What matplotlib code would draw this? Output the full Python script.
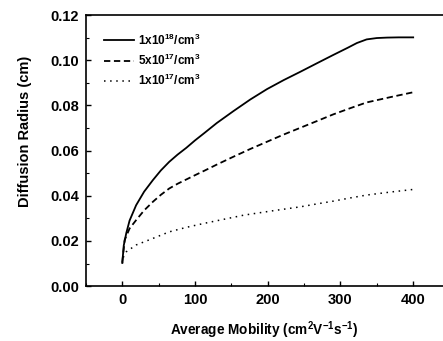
import matplotlib

matplotlib.use("Agg")
import matplotlib.pyplot as plt
from matplotlib.ticker import MultipleLocator

# values
mob_1e18 = [0, 2, 5.5, 10, 19, 30, 42, 53, 64.5, 76, 88, 100, 113, 130, 153, 176, 199, 222, 245, 268, 290, 310, 322.6, 336, 350, 364, 380, 400]
rad_1e18 = [0.0103, 0.018, 0.0235, 0.0290, 0.0358, 0.0418, 0.0469, 0.0512, 0.0550, 0.0582, 0.0612, 0.0645, 0.0678, 0.0722, 0.0775, 0.0826, 0.0872, 0.0912, 0.0949, 0.0987, 0.1023, 0.1055, 0.1076, 0.1092, 0.1098, 0.1100, 0.1101, 0.1101]
mob_5e17 = [0, 3.2, 10, 19, 30, 42, 53, 64.5, 76, 88, 100, 113, 130, 153, 176, 199, 222, 245, 268, 290, 313, 336, 368, 400]
rad_5e17 = [0.0105, 0.0204, 0.0255, 0.0292, 0.0335, 0.0373, 0.0404, 0.0432, 0.0453, 0.0472, 0.0491, 0.0511, 0.0538, 0.0573, 0.0607, 0.0639, 0.0671, 0.0701, 0.0731, 0.0760, 0.0787, 0.0813, 0.0836, 0.0858]
mob_1e17 = [0, 2, 5.5, 19, 42, 64.5, 88, 113, 140, 167, 206, 245, 268, 290, 313, 336, 368, 400.5]
rad_1e17 = [0.0100, 0.0135, 0.0152, 0.0182, 0.0211, 0.0240, 0.0260, 0.0278, 0.0296, 0.0314, 0.0333, 0.0351, 0.0364, 0.0376, 0.0390, 0.0403, 0.0416, 0.0428]
labels = [r"1x10$^{18}$/cm$^{3}$", r"5x10$^{17}$/cm$^{3}$", r"1x10$^{17}$/cm$^{3}$"]

plt.rcParams["font.family"] = ["Liberation Sans", "DejaVu Sans"]
plt.rcParams["font.weight"] = "bold"
plt.rcParams["mathtext.default"] = "regular"

fig = plt.figure(figsize=(4.43, 3.41), dpi=100)
ax = fig.add_axes([0.194, 0.161, 0.806, 0.795])

ax.plot(mob_1e18, rad_1e18, color="black", linewidth=1.3, linestyle="-", label=labels[0])
ax.plot(mob_5e17, rad_5e17, color="black", linewidth=1.3, linestyle=(0, (3.5, 2)), label=labels[1])
ax.plot(mob_1e17, rad_1e17, color="black", linewidth=1.1, linestyle=(0, (1, 3)), label=labels[2])

ax.set_xlim(-50, 441)
ax.set_ylim(0.0, 0.12)
ax.xaxis.set_major_locator(MultipleLocator(100))
ax.xaxis.set_minor_locator(MultipleLocator(50))
ax.yaxis.set_major_locator(MultipleLocator(0.02))
ax.yaxis.set_minor_locator(MultipleLocator(0.01))
ax.yaxis.set_major_formatter(plt.FuncFormatter(lambda v, _: f"{v:.2f}"))
ax.tick_params(which="both", direction="in", top=False, right=False, labelsize=10.5)
ax.tick_params(which="major", length=3.5, width=1.0, pad=5)
ax.tick_params(which="minor", length=2, width=0.8)
ax.spines["right"].set_visible(False)
for s in ("left", "bottom", "top"):
    ax.spines[s].set_linewidth(1.2)

ax.set_xlabel(r"Average Mobility (cm$^{2}$V$^{-1}$s$^{-1}$)", fontsize=9.8, fontweight="bold", labelpad=9)
ax.set_ylabel("Diffusion Radius (cm)", fontsize=10.5, fontweight="bold")
ax.yaxis.set_label_coords(-0.15, 0.572)

ax.legend(loc="upper left", bbox_to_anchor=(0.02, 0.975), frameon=False, fontsize=8.5,
          handlelength=2.6, handletextpad=0.3, labelspacing=0.42)

fig.savefig("out.png", dpi=100)
